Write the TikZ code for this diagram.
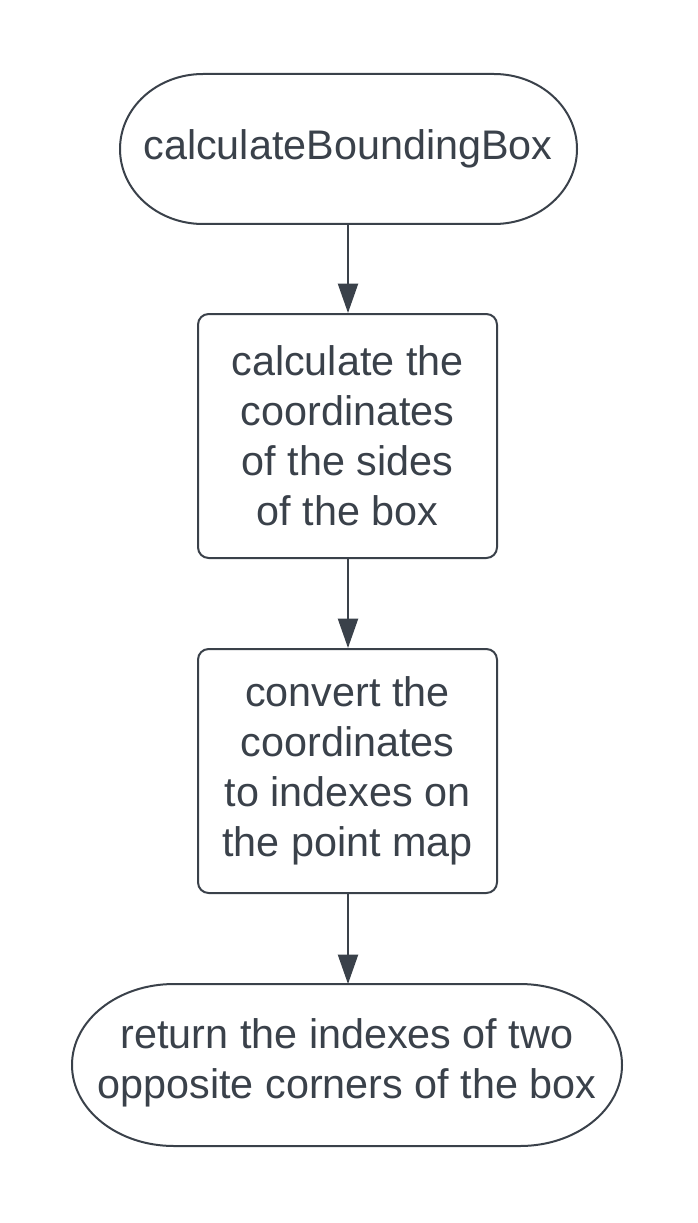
\documentclass[tikz,border=0pt]{standalone}
\usepackage{fontspec}
\setmainfont{Liberation Sans}
\usetikzlibrary{arrows.meta}
\definecolor{ink}{HTML}{3A414A}
\tikzset{
  outline/.style={draw=ink, line width=1.5pt},
  label/.style={text=ink, font=\fontsize{31}{37.5}\selectfont, align=center, inner sep=0pt},
  flow/.style={draw=ink, line width=1.6pt, -{Triangle[length=22pt,width=15pt]}},
}
\begin{document}
\begin{tikzpicture}[x=0.75pt,y=-0.75pt]
\useasboundingbox (0,0) rectangle (698,1223);
% start stadium
\draw[outline] (203,74) -- (494,74) arc[start angle=-90,end angle=90,x radius=83,y radius=75] -- (203,224) arc[start angle=90,end angle=270,x radius=83,y radius=75] -- cycle;
\node[label] (start) at (348,149) {calculateBoundingBox};
\coordinate (startB) at (348,224);
% box 1
\node[outline, rectangle, rounded corners=8pt, minimum width=299*0.75pt, minimum height=244*0.75pt, inner sep=0pt] (b1) at (347.5,436) {};
\node[label] (t1) at (b1.center) {calculate the\\coordinates\\of the sides\\of the box};
% box 2
\node[outline, rectangle, rounded corners=8pt, minimum width=299*0.75pt, minimum height=244*0.75pt, inner sep=0pt] (b2) at (347.5,771) {};
\node[label] (t2) at (b2.center) {convert the\\coordinates\\to indexes on\\the point map};
% end stadium
\draw[outline] (174,984) -- (520,984) arc[start angle=-90,end angle=90,x radius=102,y radius=81] -- (174,1146) arc[start angle=90,end angle=270,x radius=102,y radius=81] -- cycle;
\node[label] (end) at (347,1063) {return the indexes of two\\opposite corners of the box};
\coordinate (endT) at (348,984);
% connectors
\draw[flow] (startB) -- (b1.north -| startB);
\draw[flow] (b1.south -| startB) -- (b2.north -| startB);
\draw[flow] (b2.south -| startB) -- (endT);
\end{tikzpicture}
\end{document}
